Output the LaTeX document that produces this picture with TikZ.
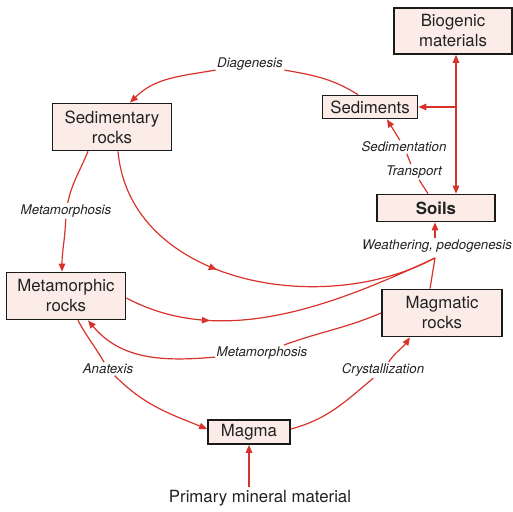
\documentclass[tikz,border=0pt]{standalone}
\usepackage{fontspec}
\setmainfont{TeX Gyre Heros}
\usetikzlibrary{arrows.meta,decorations.markings}
\definecolor{flowred}{HTML}{D7332A}
\definecolor{boxfill}{HTML}{FBECE7}
\definecolor{boxline}{HTML}{1A1A1A}
\definecolor{txt}{HTML}{222222}
\newcommand\rockfont{\fontsize{16.8}{20}\selectfont}
\begin{document}
\begin{tikzpicture}[x=1pt,y=1pt,>={Triangle[length=8pt,width=6.5pt]},
  rock/.style={draw=boxline,line width=1.7pt,fill=boxfill,text=txt,align=center,inner sep=2pt,font=\rockfont},
  proc/.style={text=txt,inner sep=1.5pt,font=\fontsize{13.3}{15}\selectfont\itshape},
  flow/.style={flowred,line width=1.2pt},
  midarrow/.style={postaction={decorate},decoration={markings,mark=at position #1 with {\arrow{>}}}}]
\useasboundingbox (0,0) rectangle (513,511);
\node[rock,minimum width=118pt,minimum height=46pt] (bio) at (453,480) {Biogenic\\materials};
\node[rock,minimum width=95pt,minimum height=23pt] (sedi) at (370,404) {Sediments};
\node[rock,minimum width=118pt,minimum height=27pt,font=\rockfont\bfseries] (soil) at (436,303) {Soils};
\node[rock,minimum width=119pt,minimum height=47pt] (sedrock) at (112,384) {Sedimentary\\rocks};
\node[rock,minimum width=119pt,minimum height=47pt] (metrock) at (66,215) {Metamorphic\\rocks};
\node[rock,minimum width=120pt,minimum height=47pt] (magrock) at (442,198) {Magmatic\\rocks};
\node[rock,minimum width=82pt,minimum height=24pt] (magma) at (249,79) {Magma};
\node[text=txt,font=\rockfont] (prim) at (260,13) {Primary mineral material};
\node[proc] (diag) at (250,447) {Diagenesis};
\node[proc] (sedim) at (404,364) {Sedimentation};
\node[proc] (transp) at (414,339) {Transport};
\node[proc] (meta1) at (66,300) {Metamorphosis};
\node[proc] (weath) at (437,265) {Weathering, pedogenesis};
\node[proc] (meta2) at (262,158) {Metamorphosis};
\node[proc] (anat) at (108,142) {Anatexis};
\node[proc] (cryst) at (383,141) {Crystallization};
\coordinate (J) at (435,253);
\coordinate (br) at ([xshift=3pt]bio.south |- sedi.east);
\draw[flow,<->] ([xshift=3pt]bio.south) -- ([xshift=3pt]bio.south |- soil.north);
\draw[flow,->] (br) -- (sedi.east);
\draw[flow,->] ([xshift=-12pt]sedi.north) to[out=148,in=-10] (diag) to[out=190,in=45] ([xshift=18pt]sedrock.north);
\draw[flow,->] ([xshift=-8pt]soil.north) -- (transp) -- (sedim) -- ([xshift=17pt]sedi.south);
\draw[flow,->] ([xshift=-24pt]sedrock.south) to[out=-112,in=78] (meta1) to[out=-92,in=90] ([xshift=-4pt]metrock.north);
\draw[flow,midarrow=0.42] ([xshift=6pt]sedrock.south) to[out=-85,in=208] (J);
\draw[flow,midarrow=0.27] ([yshift=-2pt]metrock.east) to[out=-28,in=205,looseness=0.9] (J);
\draw[flow] ([xshift=-12pt]magrock.north) -- (J);
\draw[flow,->] (weath.north -| J) -- (soil.south -| J);
\draw[flow,->] (magrock.west) to[out=203,in=20] (meta2) to[out=185,in=-50] ([xshift=22pt]metrock.south);
\draw[flow,->] ([xshift=12pt]metrock.south) to[out=-62,in=120] (anat) to[out=-45,in=158] ([yshift=3pt]magma.west);
\draw[flow,->] ([yshift=3pt]magma.east) to[out=15,in=-140] (cryst) to[out=55,in=-125] ([xshift=-32pt]magrock.south);
\draw[flow,->] (prim.north -| magma.south) -- (magma.south);
\end{tikzpicture}
\end{document}
